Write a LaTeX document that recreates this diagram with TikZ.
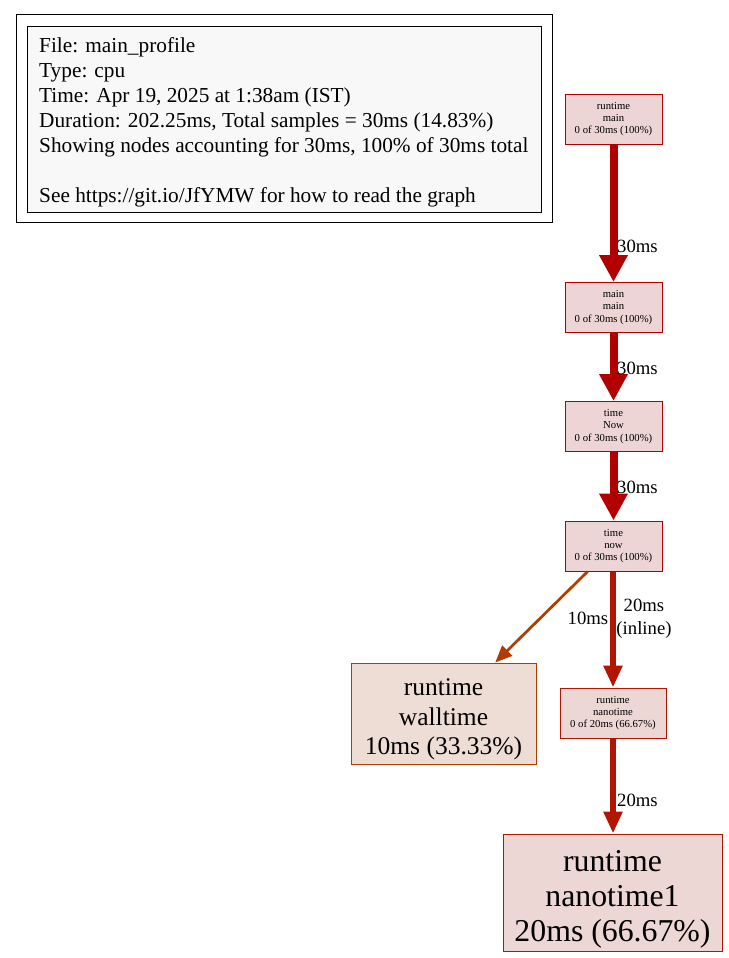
\documentclass[tikz,border=0pt]{standalone}
\usepackage{fontspec}
\setmainfont{Liberation Serif}
\usetikzlibrary{arrows.meta}
\definecolor{fillA}{HTML}{EDD5D5}
\definecolor{fillB}{HTML}{EDD7D5}
\definecolor{fillC}{HTML}{EDDDD5}
\definecolor{lineA}{HTML}{B20000}
\definecolor{lineB}{HTML}{B21500}
\definecolor{lineC}{HTML}{B23C00}
\definecolor{legfill}{HTML}{F8F8F8}
\newcommand\topstr[1]{\rule{0pt}{#1}}
\newcommand\botstr[1]{\rule[-#1]{0pt}{#1}}
\tikzset{
  small/.style={draw=lineA, fill=fillA, line width=1pt, align=center, inner sep=0pt,
    minimum width=97pt, minimum height=50pt, font=\fontsize{10.7}{12.3}\selectfont},
  bignode/.style={line width=1pt, align=center, inner sep=0pt},
  legline/.style={anchor=base west, inner sep=0pt, font=\fontsize{21.3}{25}\selectfont},
  lbl/.style={inner sep=0pt, font=\fontsize{18.7}{23}\selectfont, align=center},
  e30/.style={draw=lineA, line width=8pt, -{Triangle[length=27pt,width=27pt]}},
  e20/.style={draw=lineB, line width=5.5pt, -{Triangle[length=22pt,width=18pt]}},
  e10/.style={draw=lineC, line width=2.7pt, -{Triangle[length=17pt,width=14pt]}},
}
\begin{document}
\begin{tikzpicture}[x=1pt,y=-1pt]
\useasboundingbox (0,0) rectangle (728,958);
\fill[white] (0,0) rectangle (728,958);
% legend
\draw[line width=1pt, black] (16,15) rectangle (552,222);
\draw[line width=1pt, black, fill=legfill] (27,27) rectangle (541,212);
\node[legline] (g1) at (39,52.5) {File: main\_profile};
\node[legline] (g2) at (39,77.5) {Type: cpu};
\node[legline] (g3) at (39,102.5) {Time: Apr 19, 2025 at 1:38am (IST)};
\node[legline] (g4) at (39,127.5) {Duration: 202.25ms, Total samples = 30ms (14.83\%)};
\node[legline] (g5) at (39,152.5) {Showing nodes accounting for 30ms, 100\% of 30ms total};
\node[legline] (g6) at (39,202.5) {See https://git.io/JfYMW for how to read the graph};
% nodes
\node[small] (n1) at (613.5,119) {runtime\\main\\0 of 30ms (100\%)};
\node[small] (n2) at (613.5,307.5) {main\\main\\0 of 30ms (100\%)};
\node[small] (n3) at (613.5,426.5) {time\\Now\\0 of 30ms (100\%)};
\node[small] (n4) at (613.5,546) {time\\now\\0 of 30ms (100\%)};
\node[bignode, draw=lineC, fill=fillC,
  minimum width=185pt, minimum height=101pt, font=\fontsize{25.5}{29.5}\selectfont]
  (n5) at (443.5,713.5) {\topstr{30pt}runtime\\walltime\\10ms (33.33\%)\botstr{7pt}};
\node[small, draw=lineB, fill=fillB, minimum width=106pt] (n6) at (613,713)
  {runtime\\nanotime\\0 of 20ms (66.67\%)};
\node[bignode, draw=lineB, fill=fillB,
  minimum width=219pt, minimum height=117pt, font=\fontsize{31.8}{35}\selectfont]
  (n7) at (612.5,892.5) {\topstr{35pt}runtime\\nanotime1\\20ms (66.67\%)\botstr{8pt}};
% edges
\draw[e30] (n1) -- (n2);
\draw[e30] (n2) -- (n3);
\draw[e30] (n3) -- (n4);
\draw[e10] (n4) -- (n5);
\draw[e20] (n4.south -| n6.north) -- (n6.north);
\draw[e20] (n6) -- (n7.north -| n6.south);
% labels
\node[lbl, anchor=west] (t1) at (617,246) {30ms};
\node[lbl, anchor=west] (t2) at (617,368) {30ms};
\node[lbl, anchor=west] (t3) at (617,487) {30ms};
\node[lbl] (t4) at (588,618) {10ms};
\node[lbl] (t5) at (644,618.5) {20ms\\(inline)};
\node[lbl, anchor=west] (t6) at (617,800) {20ms};
\end{tikzpicture}
\end{document}
